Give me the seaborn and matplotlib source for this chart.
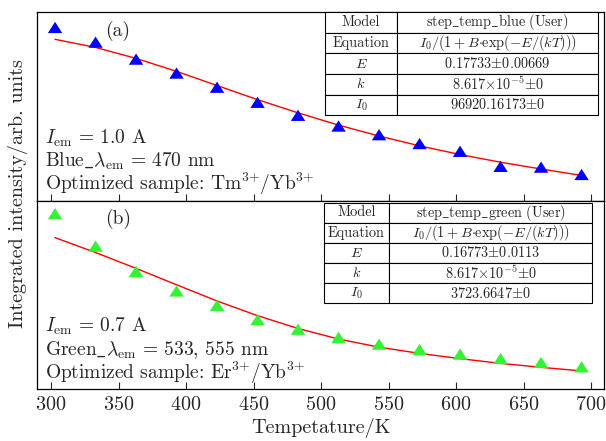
import numpy as np
import pandas as pd
import seaborn as sns
import matplotlib.pyplot as plt
from matplotlib.markers import MarkerStyle

# temperatures (K)
temps = [303, 333, 363, 393, 423, 453, 483, 513, 543, 573, 603, 633, 663, 693]

# integrated intensity, arb. units (0-100 panel scale)
blue_int = [91.8, 84.0, 75.0, 67.6, 60.1, 52.1, 45.2, 39.5, 34.9, 30.2, 26.1, 18.1, 17.7, 13.8]
blue_fit = [85.5, 81.2, 75.4, 68.5, 61.0, 53.5, 46.5, 40.0, 34.2, 29.0, 24.4, 20.3, 16.7, 13.3]
green_int = [93.0, 75.8, 62.4, 52.0, 44.4, 36.8, 31.7, 27.4, 23.8, 21.0, 18.5, 16.2, 14.1, 11.8]
green_fit = [80.3, 72.4, 64.0, 55.3, 46.7, 38.9, 32.1, 26.5, 22.2, 18.9, 16.1, 13.6, 11.5, 9.6]

blue_table = [
    ["Model", r"$\mathrm{step\_temp\_blue\ (User)}$"],
    ["Equation", r"$I_0/(1+B{\cdot}\mathrm{exp}(-E/(kT)))$"],
    [r"$E$", r"$0.17733{\pm}0.00669$"],
    [r"$k$", r"$8.617{\times}10^{-5}{\pm}0$"],
    [r"$I_0$", r"$96920.16173{\pm}0$"],
]
green_table = [
    ["Model", r"$\mathrm{step\_temp\_green\ (User)}$"],
    ["Equation", r"$I_0/(1+B{\cdot}\mathrm{exp}(-E/(kT)))$"],
    [r"$E$", r"$0.16773{\pm}0.0113$"],
    [r"$k$", r"$8.617{\times}10^{-5}{\pm}0$"],
    [r"$I_0$", r"$3723.6647{\pm}0$"],
]

blue_text = [r"$I_\mathrm{em}\,=\,1.0$ A",
             r"Blue$\_\lambda_\mathrm{em}\,=\,470$ nm",
             r"Optimized sample: Tm$^{3{+}}$/Yb$^{3{+}}$"]
green_text = [r"$I_\mathrm{em}\,=\,0.7$ A",
              r"Green$\_\lambda_\mathrm{em}\,=\,533$, 555 nm",
              r"Optimized sample: Er$^{3{+}}$/Yb$^{3{+}}$"]

df = pd.DataFrame({"T": temps, "blue": blue_int, "blue_fit": blue_fit,
                   "green": green_int, "green_fit": green_fit})

sns.set_style("ticks")
plt.rcParams.update({
    "font.family": "serif",
    "font.serif": ["cmr10"],
    "mathtext.fontset": "cm",
    "axes.formatter.use_mathtext": True,
    "axes.linewidth": 0.9,
    "axes.edgecolor": "black",
})

fig, (ax1, ax2) = plt.subplots(2, 1, figsize=(6.06, 4.41), dpi=100, sharex=True)
fig.subplots_adjust(left=0.061, right=0.9967, top=0.9728, bottom=0.1179, hspace=0)

tri = MarkerStyle([(0, 0.78), (-1, -0.78), (1, -0.78)])


def panel(ax, col, fitcol, color, label, lines):
    sns.lineplot(data=df, x="T", y=fitcol, color="red", lw=1.0, ax=ax, zorder=2)
    sns.scatterplot(data=df, x="T", y=col, color=color, marker=tri, s=108,
                    edgecolor="none", linewidth=0, ax=ax, zorder=3)
    ax.set_ylim(0, 100)
    ax.set_yticks([])
    ax.set_xlabel("")
    ax.set_ylabel("")
    ax.text(0.143, 0.90, label, transform=ax.transAxes, fontsize=14,
            ha="center", va="center")
    for t, yy in zip(lines, [0.33, 0.207, 0.088]):
        ax.text(0.014, yy, t, transform=ax.transAxes, fontsize=14,
                ha="left", va="center")


panel(ax1, "blue", "blue_fit", "#0000FF", "(a)", blue_text)
panel(ax2, "green", "green_fit", "#33F433", "(b)", green_text)

tb1 = ax1.table(cellText=blue_table, cellLoc="center", colWidths=[0.264, 0.736],
                bbox=[0.508, 0.452, 0.4815, 0.548])
tb2 = ax2.table(cellText=green_table, cellLoc="center", colWidths=[0.243, 0.757],
                bbox=[0.506, 0.455, 0.4727, 0.534])
for tb in (tb1, tb2):
    tb.auto_set_font_size(False)
    tb.set_fontsize(10.3)
    tb.set_zorder(4)
    for cell in tb.get_celld().values():
        cell.set_linewidth(0.8)
        cell.set_edgecolor("black")

ax2.set_xlim(289.6, 709.6)
ax2.set_xticks(np.arange(300, 701, 50))
ax1.tick_params(axis="x", direction="in", length=5, width=0.8, labelbottom=False)
ax2.tick_params(axis="x", direction="in", length=5, width=0.8, labelsize=14.5, pad=5)
ax2.set_xlabel("Tempetature/K", fontsize=14.5, labelpad=3)

fig.text(0.03, 0.56, "Integrated intensity/arb. units", rotation=90,
         ha="center", va="center", fontsize=14.5)

fig.savefig("out.png", dpi=100)
